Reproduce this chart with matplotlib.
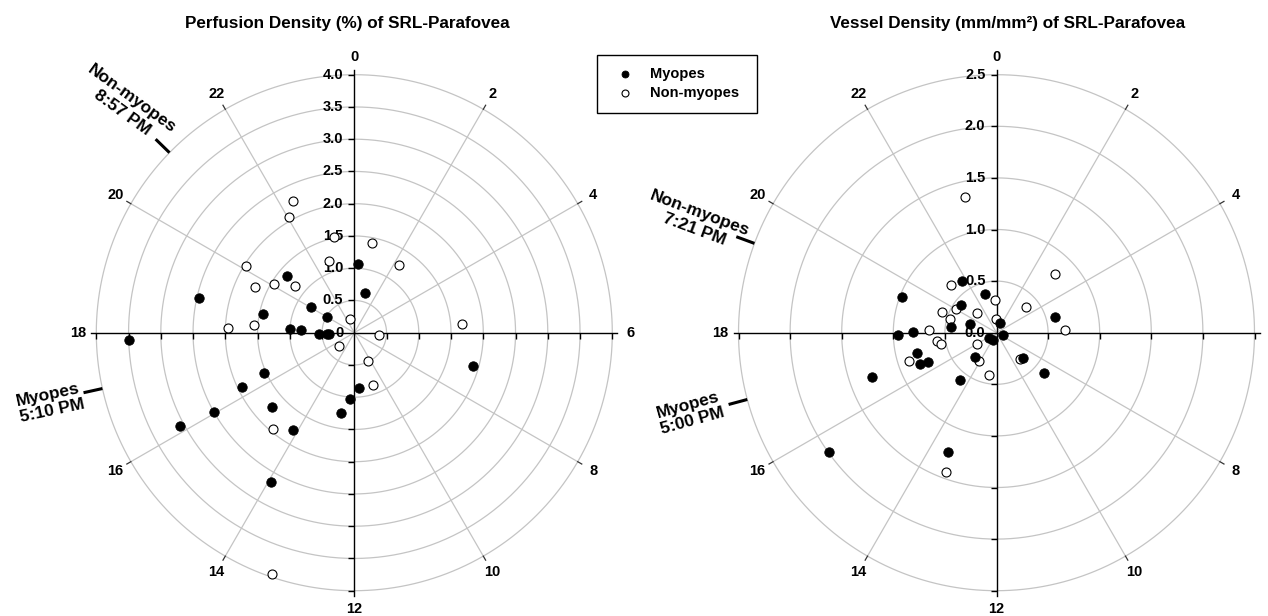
import numpy as np
import matplotlib
matplotlib.use('Agg')
import matplotlib.pyplot as plt
from matplotlib.lines import Line2D
from matplotlib.patches import Rectangle

plt.rcParams['font.family'] = ['Liberation Sans', 'DejaVu Sans']

# ---------------- data (hour of day, amplitude) ----------------
# Perfusion density (%) of SRL-Parafovea
pd_myopes_hour = [18.85, 20.69, 20.07, 19.97, 18.76, 18.22, 18.19, 17.86, 17.81, 17.81,
                  17.87, 0.22, 1.00, 7.05, 11.65, 12.27, 12.64, 16.40, 16.27, 15.19,
                  16.03, 16.12, 14.15, 13.95]
pd_myopes_amp = [2.47, 1.36, 0.78, 0.49, 1.44, 1.00, 0.83, 0.54, 0.43, 0.40,
                 3.49, 1.07, 0.64, 1.91, 0.86, 1.03, 1.27, 1.54, 1.93, 1.72,
                 2.50, 3.07, 1.78, 2.65]
pd_nonmyopes_hour = [22.33, 22.03, 22.73, 23.21, 20.11, 20.09, 19.65, 20.55, 18.29, 18.13,
                     22.71, 0.73, 2.23, 5.71, 6.39, 15.19, 10.28, 10.65, 14.68, 13.26]
pd_nonmyopes_amp = [2.26, 2.06, 1.18, 1.52, 1.97, 1.46, 1.69, 1.18, 1.56, 1.96,
                    0.22, 1.41, 1.26, 1.68, 0.39, 0.31, 0.49, 0.86, 1.95, 3.95]

# Vessel density (mm/mm2) of SRL-Parafovea
vd_myopes_hour = [19.39, 17.91, 18.02, 17.03, 16.51, 16.43, 16.70, 15.63, 21.73, 22.91,
                  4.98, 20.53, 18.51, 19.19, 1.52, 7.52, 15.72, 13.45, 14.77, 8.91,
                  8.70, 14.47, 13.47]
vd_myopes_amp = [0.98, 0.95, 0.81, 0.80, 0.80, 0.72, 1.28, 1.99, 0.60, 0.39,
                 0.59, 0.44, 0.44, 0.27, 0.10, 0.07, 0.09, 0.08, 0.31, 0.35,
                 0.60, 0.58, 1.25]
vd_nonmyopes_hour = [18.17, 16.81, 3.01, 21.09, 23.83, 3.31, 20.03, 19.39, 21.05, 19.07,
                     23.95, 17.47, 17.23, 16.05, 14.15, 9.25, 12.65, 5.85, 23.13, 13.33]
vd_nonmyopes_amp = [0.65, 0.89, 0.80, 0.64, 0.32, 0.38, 0.45, 0.57, 0.27, 0.47,
                    0.13, 0.58, 0.55, 0.22, 0.32, 0.34, 0.42, 0.66, 1.35, 1.44]

hour_ticks = list(range(0, 24, 2))
titles = ["Perfusion Density (%) of SRL-Parafovea", "Vessel Density (mm/mm²) of SRL-Parafovea"]
r_max = [4.0, 2.5]
r_step = [0.5, 0.5]
zero_labels = ["0", "0.0"]
peak_hours = [[20.95, 17.1667], [19.35, 17.0]]   # non-myopes, myopes
peak_labels = [["Non-myopes\n8:57 PM", "Myopes\n5:10 PM"],
               ["Non-myopes\n7:21 PM", "Myopes\n5:00 PM"]]

# ---------------- figure ----------------
W, H = 1268, 616
fig = plt.figure(figsize=(W / 100, H / 100), dpi=100)
GRID = '#c4c4c4'
R_PX = 258.0


def fx(x):
    return x / W


def fy(y):
    return 1 - y / H


def h2t(h):
    return np.asarray(h, dtype=float) / 24.0 * 2 * np.pi


def panel(cx, cy, rmax, rstep, zero_label, my_h, my_a, nm_h, nm_a, peaks):
    rect = [fx(cx - R_PX), fy(cy + R_PX), 2 * R_PX / W, 2 * R_PX / H]
    ax = fig.add_axes(rect, projection='polar')
    ax.set_theta_zero_location('N')
    ax.set_theta_direction(-1)
    ax.set_rlim(0, rmax)
    ax.set_xticks([])
    ax.set_yticks([])
    ax.grid(False)
    ax.spines['polar'].set_visible(False)
    ax.patch.set_alpha(0)

    th = np.linspace(0, 2 * np.pi, 721)
    rings = np.arange(1, int(round(rmax / rstep)) + 1) * rstep
    for r in rings:
        ax.plot(th, np.full_like(th, r), color=GRID, lw=0.9, zorder=1, clip_on=False)
    for h in hour_ticks:
        t = float(h2t(h))
        if h % 6:
            ax.plot([t, t], [0, rmax], color=GRID, lw=0.9, zorder=1)
            ax.plot([t, t], [rmax, rmax * 1.018], color='#333333', lw=0.9, zorder=1, clip_on=False)
        ax.text(t, rmax * 1.07, str(h), ha='center', va='center', fontsize=10.5,
                fontweight='bold')
    ext = rmax * (1 + 5 / R_PX)
    for t in [0, np.pi / 2, np.pi, 1.5 * np.pi]:
        ax.plot([t, t], [0, ext], color='black', lw=1.0, zorder=2, clip_on=False)
    ax.plot(np.zeros_like(rings), rings, ls='none', marker=0, ms=4, mew=1.0, color='k',
            clip_on=False, zorder=2)
    ax.plot(np.full_like(rings, np.pi), rings, ls='none', marker=0, ms=4, mew=1.0, color='k',
            clip_on=False, zorder=2)
    ax.plot(np.full_like(rings, np.pi / 2), rings, ls='none', marker=3, ms=4, mew=1.0, color='k',
            clip_on=False, zorder=2)
    ax.plot(np.full_like(rings, 1.5 * np.pi), rings, ls='none', marker=3, ms=4, mew=1.0, color='k',
            clip_on=False, zorder=2)
    # radial labels
    for r in rings:
        ax.annotate(f"{r:.1f}", (0, r), xytext=(-8, 0), textcoords='offset points',
                    ha='right', va='center', fontsize=10.5, fontweight='bold', zorder=3)
    ax.annotate(zero_label, (0, 0), xytext=(-8, 0), textcoords='offset points',
                ha='right', va='center', fontsize=10.5, fontweight='bold', zorder=3)
    # peak ticks
    for ph in peaks:
        t = float(h2t(ph))
        ax.plot([t, t], [rmax * 1.0, rmax * 1.075], color='black', lw=2.2,
                solid_capstyle='butt', clip_on=False, zorder=4)
    # data
    ax.scatter(h2t(nm_h), nm_a, s=42, facecolors='white', edgecolors='black',
               linewidths=0.8, zorder=5, clip_on=False)
    ax.scatter(h2t(my_h), my_a, s=46, facecolors='black', edgecolors='black',
               linewidths=0.6, zorder=6, clip_on=False)
    return ax


panel(354.3, 332.7, r_max[0], r_step[0], zero_labels[0],
      pd_myopes_hour, pd_myopes_amp, pd_nonmyopes_hour, pd_nonmyopes_amp, peak_hours[0])
panel(996.5, 332.7, r_max[1], r_step[1], zero_labels[1],
      vd_myopes_hour, vd_myopes_amp, vd_nonmyopes_hour, vd_nonmyopes_amp, peak_hours[1])

# titles
fig.text(fx(347), fy(23.5), titles[0], ha='center', va='center', fontsize=12.3, fontweight='bold')
fig.text(fx(1008), fy(23.5), titles[1], ha='center', va='center', fontsize=12.3, fontweight='bold')

# peak annotations
ann = [
    (peak_labels[0][0], 127, 106, -36),
    (peak_labels[0][1], 50, 403, 12),
    (peak_labels[1][0], 697, 221, -20.5),
    (peak_labels[1][1], 690, 413, 15.5),
]
for txt, x, y, rot in ann:
    fig.text(fx(x), fy(y), txt, ha='center', va='center', rotation=rot,
             rotation_mode='anchor', fontsize=12.5, fontweight='bold', linespacing=1.15,
             multialignment='center')

# legend
fig.patches.append(Rectangle((fx(597), fy(113)), (757 - 597) / W, (113 - 55) / H,
                             transform=fig.transFigure, fill=False, edgecolor='black', lw=1.0))
fig.lines.append(Line2D([fx(625)], [fy(74.3)], transform=fig.transFigure, ls='none',
                        marker='o', ms=5, mfc='black', mec='black', mew=0.6))
fig.lines.append(Line2D([fx(625)], [fy(93.3)], transform=fig.transFigure, ls='none',
                        marker='o', ms=5, mfc='white', mec='black', mew=0.8))
fig.text(fx(650), fy(74.3), "Myopes", ha='left', va='center', fontsize=10.5, fontweight='bold')
fig.text(fx(650), fy(93.3), "Non-myopes", ha='left', va='center', fontsize=10.5, fontweight='bold')

fig.savefig('out.png', dpi=100)
